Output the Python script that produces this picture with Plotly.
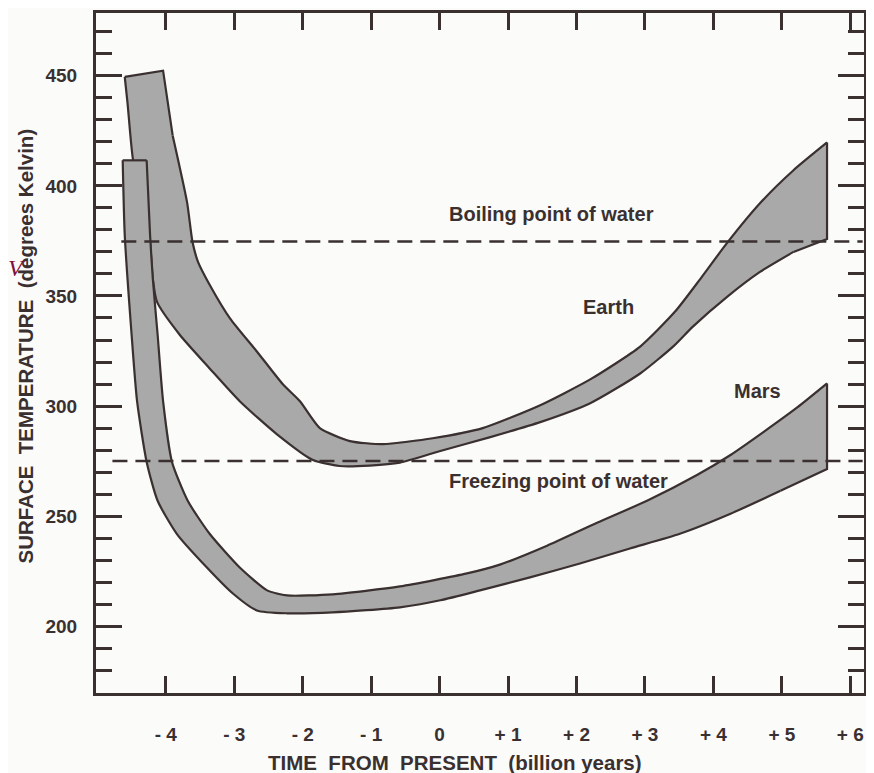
import plotly.graph_objects as go

# ---- data ----
# Earth band: upper (outer) edge, left -> right
earth_upper_x = [-4.04, -3.90, -3.69, -3.61, -3.53, -3.36, -3.06, -2.67, -2.29, -2.04, -1.75, -1.31,
                 -0.83, -0.10, 0.63, 1.47, 2.20, 2.93, 3.44, 3.81, 4.20, 4.68, 5.17, 5.66]
earth_upper_y = [452.3, 422.9, 392.6, 374.5, 365.5, 355.1, 339.7, 324.8, 309.9, 302.2, 290.0, 284.1,
                 282.7, 285.4, 290.0, 300.4, 312.1, 327.0, 342.9, 357.8, 374.1, 392.1, 407.1, 419.7]
# Earth band: lower (inner) edge, right -> left
earth_lower_x = [5.66, 5.17, 4.68, 4.20, 3.70, 3.41, 2.93, 2.20, 1.47, 0.74, 0.01, -0.58, -1.02,
                 -1.46, -1.85, -2.38, -2.92, -3.36, -3.80, -4.13, -4.19, -4.24, -4.48, -4.56, -4.60]
earth_lower_y = [375.9, 370.0, 360.9, 349.6, 336.1, 327.0, 314.8, 301.3, 292.7, 285.9, 279.6, 274.3, 273.0,
                 272.8, 275.5, 287.3, 302.2, 317.1, 332.5, 347.4, 357.8, 377.0, 412.0, 437.8, 449.5]

# Mars band: upper (inner) edge, left -> right
mars_upper_x = [-4.63, -4.28, -4.23, -4.19, -4.12, -4.04, -3.91, -3.68, -3.36, -2.92, -2.52, -2.23,
                -1.56, -0.58, 0.40, 0.88, 1.57, 2.30, 3.03, 3.76, 4.25, 4.73, 5.23, 5.66]
mars_upper_y = [411.6, 411.6, 377.7, 357.8, 332.5, 302.2, 274.6, 257.0, 242.0, 226.7, 216.3, 214.0,
                214.5, 218.1, 224.0, 228.0, 236.6, 247.0, 257.0, 268.7, 277.8, 288.2, 299.5, 310.3]
# Mars band: lower (outer) edge, right -> left
mars_lower_x = [5.66, 4.98, 4.25, 3.51, 2.78, 2.05, 1.32, 0.59, 0.01, -0.58, -1.56, -2.23, -2.67,
                -3.02, -3.40, -3.84, -4.12, -4.28, -4.42, -4.50, -4.60, -4.63]
mars_lower_y = [271.4, 261.5, 251.1, 242.0, 235.3, 228.5, 222.2, 216.3, 211.8, 208.6, 206.3, 205.9, 207.2,
                214.9, 226.7, 242.0, 257.0, 274.6, 302.2, 332.5, 377.7, 411.6]

boiling_k = 374.7
freezing_k = 275.0
boiling_x = [-4.65, 6.18]
freezing_x = [-4.78, 6.18]

x_tickvals = [-4, -3, -2, -1, 0, 1, 2, 3, 4, 5, 6]
x_ticktext = ["- 4", "- 3", "- 2", "- 1", "0", "+ 1", "+ 2", "+ 3", "+ 4", "+ 5", "+ 6"]
y_tickvals = [200, 250, 300, 350, 400, 450]
y_ticktext = ["200", "250", "300", "350", "400", "450"]

labels = ["Boiling point of water", "Earth", "Mars", "Freezing point of water"]
label_x = [1.64, 2.46, 4.65, 1.73]
label_y = [387.2, 345.1, 306.7, 266.0]

# ---- styling ----
INK = "#3a3030"
FILL = "#a9a9a9"
FONT = "Liberation Sans"
BG = "#fbfbfa"

fig = go.Figure()


def band(upper_x, upper_y, lower_x, lower_y):
    # filled body
    fig.add_trace(go.Scatter(
        x=upper_x + lower_x, y=upper_y + lower_y,
        mode="lines", fill="toself", fillcolor=FILL,
        line=dict(color=FILL, width=0.5), hoverinfo="skip", showlegend=False))
    # smooth outlines of both edges
    for xs, ys in ((upper_x[1:], upper_y[1:]), (lower_x[1:], lower_y[1:])):
        fig.add_trace(go.Scatter(
            x=xs, y=ys, mode="lines",
            line=dict(color=INK, width=2.2, shape="spline", smoothing=0.6),
            hoverinfo="skip", showlegend=False))
    # straight end caps
    for xs, ys in (([lower_x[-1], upper_x[0], upper_x[1]], [lower_y[-1], upper_y[0], upper_y[1]]),
                   ([upper_x[-1], lower_x[0], lower_x[1]], [upper_y[-1], lower_y[0], lower_y[1]])):
        fig.add_trace(go.Scatter(
            x=xs, y=ys, mode="lines", line=dict(color=INK, width=2.2),
            hoverinfo="skip", showlegend=False))


band(earth_upper_x, earth_upper_y, earth_lower_x, earth_lower_y)
band(mars_upper_x, mars_upper_y, mars_lower_x, mars_lower_y)

for xs, k in ((boiling_x, boiling_k), (freezing_x, freezing_k)):
    fig.add_trace(go.Scatter(
        x=xs, y=[k, k], mode="lines",
        line=dict(color=INK, width=2.5, dash="15px,8px"),
        hoverinfo="skip", showlegend=False))

for t, lx, ly in zip(labels, label_x, label_y):
    fig.add_annotation(x=lx, y=ly, text=t, showarrow=False,
                       font=dict(family=FONT, size=20, color=INK, weight="bold"),
                       xanchor="center", yanchor="middle")

fig.add_annotation(xref="paper", yref="paper", x=0, y=0.5095, xshift=-70,
                   text="SURFACE  TEMPERATURE  (degrees Kelvin)", textangle=-90,
                   showarrow=False, xanchor="center", yanchor="middle",
                   font=dict(family=FONT, size=20.5, color=INK, weight="bold"))
fig.add_annotation(xref="paper", yref="paper", x=0.4674, y=0, yshift=-69,
                   text="TIME  FROM  PRESENT  (billion years)",
                   showarrow=False, xanchor="center", yanchor="middle",
                   font=dict(family=FONT, size=20.5, color=INK, weight="bold"))
fig.add_annotation(xref="paper", yref="paper", x=0, y=0.625, xshift=-89,
                   text="V", showarrow=False, xanchor="left", yanchor="middle",
                   borderpad=0,
                   font=dict(family="Liberation Serif", size=24, color="#7b1445", style="italic"))

# the page body adds an 8px offset, so the figure is 8px smaller and margins shifted
fig.update_layout(
    width=866, height=765,
    margin=dict(l=88, r=10, t=2, b=80),
    paper_bgcolor=BG, plot_bgcolor=BG,
    showlegend=False,
    xaxis=dict(range=[-5.02, 6.2], tickvals=x_tickvals, ticktext=x_ticktext,
               ticks="inside", ticklen=17, tickwidth=2.5, tickcolor=INK,
               showline=True, linewidth=3, linecolor=INK, mirror="ticks",
               showgrid=False, zeroline=False, ticklabelstandoff=22,
               tickfont=dict(family=FONT, size=19, color=INK, weight="bold")),
    yaxis=dict(range=[169.7, 478.5], tickvals=y_tickvals, ticktext=y_ticktext,
               ticks="inside", ticklen=26, tickwidth=2.5, tickcolor=INK,
               minor=dict(ticks="inside", ticklen=16, tickwidth=2.5, tickcolor=INK,
                          dtick=10, tick0=0, showgrid=False),
               showline=True, linewidth=3, linecolor=INK, mirror="ticks",
               showgrid=False, zeroline=False, ticklabelstandoff=12,
               tickfont=dict(family=FONT, size=19, color=INK, weight="bold")),
)

fig.write_html("out.html")
